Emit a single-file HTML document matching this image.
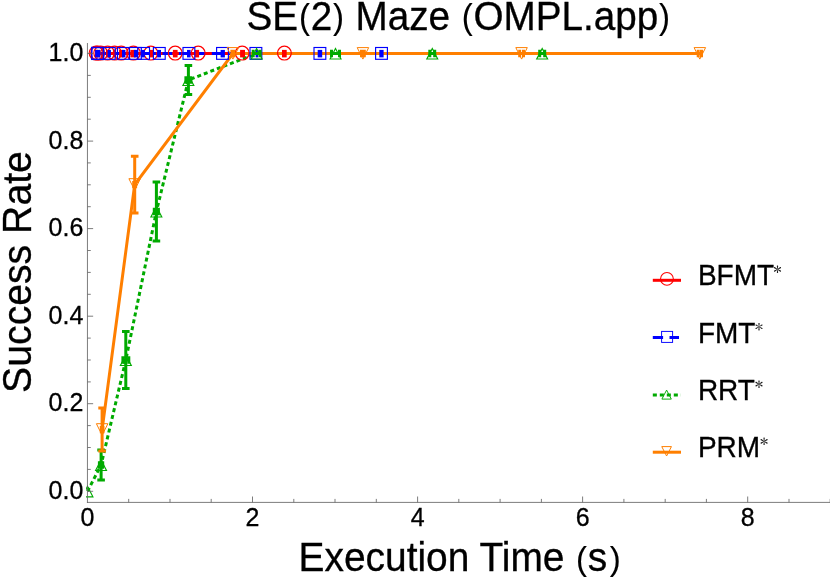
<!DOCTYPE html>
<html><head><meta charset="utf-8"><title>SE(2) Maze</title>
<style>
html,body{margin:0;padding:0;background:#fff;}
body{width:830px;height:580px;overflow:hidden;}
svg{display:block;will-change:transform;}
text{font-family:"Liberation Sans",sans-serif;fill:#000;stroke:#000;stroke-width:0.3px;}
</style></head><body>
<svg width="830" height="580" viewBox="0 0 830 580">
<rect x="0" y="0" width="830" height="580" fill="#ffffff"/>

<defs><clipPath id="pc"><rect x="86" y="40" width="745" height="462"/></clipPath></defs>
<g clip-path="url(#pc)" fill="none" stroke-width="3">
<path d="M96.1 53.5H284.4" stroke="#ff0000"/>
<path d="M97.7 53.5H106.4M113.1 53.5H125.4M132 53.5H138.1M144.8 53.5H155.8" stroke="#0000ff"/>
<path d="M162.45 53.5H381.5" stroke="#0000ff" stroke-dasharray="9.8 6.65"/>
<path d="M87.5 491.3 L101.1 465.0 L125.8 360.0 L156.4 211.5 L188.4 80.0 L256.6 53.5 L335.5 53.5 L432.3 53.5 L542.2 53.5" stroke="#00aa00" stroke-dasharray="4 3"/>
<path d="M102.1 429.6 L134.7 184.6 L232.9 53.5 L362.9 53.5 L521.6 53.5 L699.8 53.5" stroke="#ff7f00" stroke-linejoin="miter"/>
</g>
<g clip-path="url(#pc)">
<circle cx="97.6" cy="53.1" r="6.9" fill="none" stroke="#ff0000" stroke-width="1.2"/>
<rect x="95.3" y="49.9" width="2.7" height="7.5" fill="#ff0000"/>
<circle cx="96.1" cy="53.1" r="6.9" fill="none" stroke="#ff0000" stroke-width="1.2"/>
<rect x="95.3" y="49.9" width="2.7" height="7.5" fill="#ff0000"/>
<circle cx="100.7" cy="53.1" r="6.9" fill="none" stroke="#ff0000" stroke-width="1.2"/>
<rect x="98.4" y="49.9" width="1.8" height="7.5" fill="#ff0000"/>
<circle cx="107.6" cy="53.1" r="6.9" fill="none" stroke="#ff0000" stroke-width="1.2"/>
<rect x="106.0" y="49.9" width="3.2" height="7.5" fill="#ff0000"/>
<circle cx="114.5" cy="53.1" r="6.9" fill="none" stroke="#ff0000" stroke-width="1.2"/>
<rect x="112.9" y="49.9" width="3.2" height="7.5" fill="#ff0000"/>
<circle cx="121.2" cy="53.1" r="6.9" fill="none" stroke="#ff0000" stroke-width="1.2"/>
<rect x="119.1" y="49.9" width="4.4" height="7.5" fill="#ff0000"/>
<circle cx="133.4" cy="53.1" r="6.9" fill="none" stroke="#ff0000" stroke-width="1.2"/>
<rect x="130.4" y="49.9" width="5.2" height="7.5" fill="#ff0000"/>
<circle cx="150.8" cy="53.1" r="6.9" fill="none" stroke="#ff0000" stroke-width="1.2"/>
<rect x="149.6" y="49.9" width="3.4" height="7.5" fill="#ff0000"/>
<circle cx="175.2" cy="53.1" r="6.9" fill="none" stroke="#ff0000" stroke-width="1.2"/>
<rect x="172.9" y="49.9" width="4.7" height="7.5" fill="#ff0000"/>
<circle cx="198.2" cy="53.1" r="6.9" fill="none" stroke="#ff0000" stroke-width="1.2"/>
<rect x="194.6" y="49.9" width="4.5" height="7.5" fill="#ff0000"/>
<circle cx="242.2" cy="53.1" r="6.9" fill="none" stroke="#ff0000" stroke-width="1.2"/>
<rect x="240.1" y="49.9" width="4.9" height="7.5" fill="#ff0000"/>
<circle cx="284.4" cy="53.1" r="6.9" fill="none" stroke="#ff0000" stroke-width="1.2"/>
<rect x="282.0" y="49.9" width="4.7" height="7.5" fill="#ff0000"/>
<rect x="91.8" y="47.5" width="11.8" height="11.8" fill="none" stroke="#0000ff" stroke-width="1.5"/>
<rect x="95.1" y="49.9" width="5.2" height="7.5" fill="#0000ff"/>
<rect x="103.4" y="47.5" width="11.8" height="11.8" fill="none" stroke="#0000ff" stroke-width="1.15"/>
<rect x="107.6" y="49.9" width="3.3" height="7.5" fill="#0000ff"/>
<rect x="117.5" y="47.5" width="11.8" height="11.8" fill="none" stroke="#0000ff" stroke-width="1.15"/>
<rect x="122.0" y="49.9" width="3.4" height="7.5" fill="#0000ff"/>
<rect x="129.5" y="47.5" width="11.8" height="11.8" fill="none" stroke="#0000ff" stroke-width="1.15"/>
<rect x="133.9" y="49.9" width="4.2" height="7.5" fill="#0000ff"/>
<rect x="137.7" y="47.5" width="11.8" height="11.8" fill="none" stroke="#0000ff" stroke-width="1.15"/>
<rect x="140.8" y="49.9" width="4.1" height="7.5" fill="#0000ff"/>
<rect x="153.4" y="47.5" width="11.8" height="11.8" fill="none" stroke="#0000ff" stroke-width="1.15"/>
<rect x="157.1" y="49.9" width="3.9" height="7.5" fill="#0000ff"/>
<rect x="183.0" y="47.5" width="11.8" height="11.8" fill="none" stroke="#0000ff" stroke-width="1.15"/>
<rect x="187.0" y="49.9" width="3.6" height="7.5" fill="#0000ff"/>
<rect x="216.6" y="47.5" width="11.8" height="11.8" fill="none" stroke="#0000ff" stroke-width="1.15"/>
<rect x="220.6" y="49.9" width="4.3" height="7.5" fill="#0000ff"/>
<rect x="250.0" y="47.5" width="11.8" height="11.8" fill="none" stroke="#0000ff" stroke-width="1.15"/>
<rect x="255.6" y="49.9" width="2.8" height="7.5" fill="#0000ff"/>
<rect x="314.0" y="47.5" width="11.8" height="11.8" fill="none" stroke="#0000ff" stroke-width="1.15"/>
<rect x="317.7" y="49.9" width="4.5" height="7.5" fill="#0000ff"/>
<rect x="375.6" y="47.5" width="11.8" height="11.8" fill="none" stroke="#0000ff" stroke-width="1.15"/>
<rect x="379.3" y="49.9" width="4.3" height="7.5" fill="#0000ff"/>
<path d="M87.5 486.3L92.9 496.8L82.0 496.8Z" fill="none" stroke="#00aa00" stroke-width="1.15"/>
<g stroke="#00aa00" stroke-width="3" fill="none"><path d="M99.4 465.0H102.7M99.4 461.3V468.7M102.7 461.3V468.7" /><path d="M101.1 450.1V479.9M97.3 450.1H104.9M97.3 479.9H104.9"/></g>
<path d="M101.1 460.0L106.5 470.5L95.6 470.5Z" fill="none" stroke="#00aa00" stroke-width="1.15"/>
<g stroke="#00aa00" stroke-width="3" fill="none"><path d="M122.9 360.0H128.8M122.9 356.3V363.7M128.8 356.3V363.7" /><path d="M125.8 331.5V388.4M122.0 331.5H129.6M122.0 388.4H129.6"/></g>
<path d="M125.8 355.0L131.3 365.5L120.4 365.5Z" fill="none" stroke="#00aa00" stroke-width="1.15"/>
<g stroke="#00aa00" stroke-width="3" fill="none"><path d="M154.3 211.5H158.4M154.3 207.8V215.2M158.4 207.8V215.2" /><path d="M156.4 182.0V241.1M152.6 182.0H160.2M152.6 241.1H160.2"/></g>
<path d="M156.4 206.5L161.8 217.0L150.9 217.0Z" fill="none" stroke="#00aa00" stroke-width="1.15"/>
<g stroke="#00aa00" stroke-width="3" fill="none"><path d="M185.9 80.0H190.9M185.9 76.3V83.7M190.9 76.3V83.7" /><path d="M188.4 65.5V94.4M184.6 65.5H192.2M184.6 94.4H192.2"/></g>
<path d="M188.4 75.0L193.8 85.5L182.9 85.5Z" fill="none" stroke="#00aa00" stroke-width="1.15"/>
<g stroke="#00aa00" stroke-width="3" fill="none"><path d="M253.2 53.5H260.1M253.2 49.8V57.2M260.1 49.8V57.2" /></g>
<path d="M256.6 48.5L262.1 59.0L251.2 59.0Z" fill="none" stroke="#00aa00" stroke-width="1.15"/>
<g stroke="#00aa00" stroke-width="3" fill="none"><path d="M331.5 53.5H339.5M331.5 49.8V57.2M339.5 49.8V57.2" /></g>
<path d="M335.5 48.5L341.0 59.0L330.1 59.0Z" fill="none" stroke="#00aa00" stroke-width="1.15"/>
<g stroke="#00aa00" stroke-width="3" fill="none"><path d="M429.8 53.5H434.7M429.8 49.8V57.2M434.7 49.8V57.2" /></g>
<path d="M432.3 48.5L437.7 59.0L426.8 59.0Z" fill="none" stroke="#00aa00" stroke-width="1.15"/>
<g stroke="#00aa00" stroke-width="3" fill="none"><path d="M539.7 53.5H544.7M539.7 49.8V57.2M544.7 49.8V57.2" /></g>
<path d="M542.2 48.5L547.6 59.0L536.7 59.0Z" fill="none" stroke="#00aa00" stroke-width="1.15"/>
<g stroke="#ff7f00" stroke-width="3" fill="none"><path d="M101.3 429.6H103.0M101.3 425.9V433.3M103.0 425.9V433.3" /><path d="M102.1 408.1V451.0M98.3 408.1H105.9M98.3 451.0H105.9"/></g>
<path d="M102.1 435.2L107.9 423.7L96.4 423.7Z" fill="none" stroke="#ff7f00" stroke-width="1.0"/>
<g stroke="#ff7f00" stroke-width="3" fill="none"><path d="M133.7 184.6H135.6M133.7 180.9V188.3M135.6 180.9V188.3" /><path d="M134.7 156.2V213.1M130.9 156.2H138.5M130.9 213.1H138.5"/></g>
<path d="M134.7 190.2L140.4 178.7L128.9 178.7Z" fill="none" stroke="#ff7f00" stroke-width="1.0"/>
<g stroke="#ff7f00" stroke-width="3" fill="none"><path d="M231.9 53.5H233.9M231.9 49.8V57.2M233.9 49.8V57.2" /></g>
<path d="M232.9 59.1L238.6 47.6L227.1 47.6Z" fill="none" stroke="#ff7f00" stroke-width="1.0"/>
<g stroke="#ff7f00" stroke-width="3" fill="none"><path d="M361.5 53.5H364.3M361.5 49.8V57.2M364.3 49.8V57.2" /></g>
<path d="M362.9 59.1L368.7 47.6L357.2 47.6Z" fill="none" stroke="#ff7f00" stroke-width="1.0"/>
<g stroke="#ff7f00" stroke-width="3" fill="none"><path d="M519.7 53.5H523.5M519.7 49.8V57.2M523.5 49.8V57.2" /></g>
<path d="M521.6 59.1L527.3 47.6L515.8 47.6Z" fill="none" stroke="#ff7f00" stroke-width="1.0"/>
<g stroke="#ff7f00" stroke-width="3" fill="none"><path d="M698.2 53.5H701.5M698.2 49.8V57.2M701.5 49.8V57.2" /></g>
<path d="M699.8 59.1L705.6 47.6L694.1 47.6Z" fill="none" stroke="#ff7f00" stroke-width="1.0"/>
</g>
<g stroke="#666666" stroke-width="0.85" fill="none">
<path d="M87.45 43.0V502.9M86.95 502.4H830"/>
<path d="M87.45 491.3h5.7M87.45 469.4h3.3M87.45 447.5h3.3M87.45 425.6h3.3M87.45 403.7h5.7M87.45 381.9h3.3M87.45 360.0h3.3M87.45 338.1h3.3M87.45 316.2h5.7M87.45 294.3h3.3M87.45 272.4h3.3M87.45 250.5h3.3M87.45 228.6h5.7M87.45 206.7h3.3M87.45 184.8h3.3M87.45 162.9h3.3M87.45 141.1h5.7M87.45 119.2h3.3M87.45 97.3h3.3M87.45 75.4h3.3M87.45 53.5h5.7"/>
<path d="M128.7 502.4v-3.5M170.0 502.4v-3.5M211.2 502.4v-3.5M252.5 502.4v-5.9M293.8 502.4v-3.5M335.0 502.4v-3.5M376.3 502.4v-3.5M417.6 502.4v-5.9M458.8 502.4v-3.5M500.1 502.4v-3.5M541.4 502.4v-3.5M582.6 502.4v-5.9M623.9 502.4v-3.5M665.2 502.4v-3.5M706.4 502.4v-3.5M747.7 502.4v-5.9M789.0 502.4v-3.5M830.2 502.4v-3.5"/>
</g>
<text transform="translate(83.3 498.7) scale(1 1.045)" font-size="25" text-anchor="end">0.0</text>
<text transform="translate(83.3 411.1) scale(1 1.045)" font-size="25" text-anchor="end">0.2</text>
<text transform="translate(83.3 323.6) scale(1 1.045)" font-size="25" text-anchor="end">0.4</text>
<text transform="translate(83.3 236.0) scale(1 1.045)" font-size="25" text-anchor="end">0.6</text>
<text transform="translate(83.3 148.5) scale(1 1.045)" font-size="25" text-anchor="end">0.8</text>
<text transform="translate(83.3 60.9) scale(1 1.045)" font-size="25" text-anchor="end">1.0</text>
<text transform="translate(87.5 525.7) scale(1 1.045)" font-size="25" text-anchor="middle">0</text>
<text transform="translate(252.5 525.7) scale(1 1.045)" font-size="25" text-anchor="middle">2</text>
<text transform="translate(417.6 525.7) scale(1 1.045)" font-size="25" text-anchor="middle">4</text>
<text transform="translate(582.6 525.7) scale(1 1.045)" font-size="25" text-anchor="middle">6</text>
<text transform="translate(747.7 525.7) scale(1 1.045)" font-size="25" text-anchor="middle">8</text>
<text transform="translate(458.3 29.5) scale(1 1.04)" font-size="38.68" text-anchor="middle">SE<tspan font-size="33" dx="0.8" dy="-0.4" stroke-width="0.1">(</tspan><tspan dx="0.8" dy="0.4">2</tspan><tspan font-size="33" dx="0.8" dy="-0.4" stroke-width="0.1">)</tspan><tspan dx="0.8" dy="0.4"> </tspan>Maze <tspan font-size="33" dx="0.8" dy="-0.4" stroke-width="0.1">(</tspan><tspan dx="0.8" dy="0.4">O</tspan>MPL.app<tspan font-size="33" dx="0.8" dy="-0.4" stroke-width="0.1">)</tspan></text>
<text transform="translate(459.7 570.8) scale(1 1.03)" font-size="38.9" text-anchor="middle">Execution Time <tspan font-size="33" dx="0.8" dy="-0.4" stroke-width="0.1">(</tspan><tspan dx="0.8" dy="0.4">s</tspan><tspan font-size="33" dx="2.6" dy="-0.4" stroke-width="0.1">)</tspan></text>
<text transform="translate(30.5 272.0) rotate(-90) scale(1 1.04)" font-size="39.2" text-anchor="middle">Success Rate</text>
<path d="M652.8 280.3H681" stroke="#ff0000" stroke-width="3"/>
<circle cx="666.95" cy="278.9" r="6.4" fill="none" stroke="#ff0000" stroke-width="1.05"/>
<text transform="translate(697.9 285.1) scale(1 1.035)" font-size="28" text-anchor="start">BFMT</text>
<path d="M777.72 269.05L778.18 266.10L777.85 265.60L777.15 265.60L776.82 266.10L777.28 269.05ZM777.87 269.39L780.83 268.21L781.10 267.68L780.75 267.07L780.15 267.04L777.65 269.01ZM777.35 269.01L774.85 267.04L774.25 267.07L773.90 267.68L774.17 268.21L777.13 269.39ZM777.28 269.65L776.82 272.60L777.15 273.10L777.85 273.10L778.18 272.60L777.72 269.65ZM777.13 269.31L774.17 270.49L773.90 271.02L774.25 271.63L774.85 271.66L777.35 269.69ZM777.65 269.69L780.15 271.66L780.75 271.63L781.10 271.02L780.83 270.49L777.87 269.31Z" fill="#1a1a1a" stroke="none"/>
<path d="M652.8 337.6H663.1M669.5 337.6H679" stroke="#0000ff" stroke-width="3"/>
<rect x="661.6" y="331.4" width="11" height="11" fill="none" stroke="#0000ff" stroke-width="0.95"/>
<text transform="translate(697.9 342.5) scale(1 1.035)" font-size="28" text-anchor="start">FMT</text>
<path d="M759.22 326.45L759.68 323.50L759.35 323.00L758.65 323.00L758.32 323.50L758.78 326.45ZM759.37 326.79L762.33 325.61L762.60 325.08L762.25 324.47L761.65 324.44L759.15 326.41ZM758.85 326.41L756.35 324.44L755.75 324.47L755.40 325.08L755.67 325.61L758.63 326.79ZM758.78 327.05L758.32 330.00L758.65 330.50L759.35 330.50L759.68 330.00L759.22 327.05ZM758.63 326.71L755.67 327.89L755.40 328.42L755.75 329.03L756.35 329.06L758.85 327.09ZM759.15 327.09L761.65 329.06L762.25 329.03L762.60 328.42L762.33 327.89L759.37 326.71Z" fill="#1a1a1a" stroke="none"/>
<path d="M652.8 395H680.9" stroke="#00aa00" stroke-width="3" stroke-dasharray="4.05 2.95"/>
<path d="M666.60 390.10L671.30 399.10L661.90 399.10Z" fill="none" stroke="#00aa00" stroke-width="0.95"/>
<text transform="translate(697.9 399.9) scale(1 1.035)" font-size="28" text-anchor="start">RRT</text>
<path d="M759.22 383.85L759.68 380.90L759.35 380.40L758.65 380.40L758.32 380.90L758.78 383.85ZM759.37 384.19L762.33 383.01L762.60 382.48L762.25 381.87L761.65 381.84L759.15 383.81ZM758.85 383.81L756.35 381.84L755.75 381.87L755.40 382.48L755.67 383.01L758.63 384.19ZM758.78 384.45L758.32 387.40L758.65 387.90L759.35 387.90L759.68 387.40L759.22 384.45ZM758.63 384.11L755.67 385.29L755.40 385.82L755.75 386.43L756.35 386.46L758.85 384.49ZM759.15 384.49L761.65 386.46L762.25 386.43L762.60 385.82L762.33 385.29L759.37 384.11Z" fill="#1a1a1a" stroke="none"/>
<path d="M652.8 452.2H681" stroke="#ff7f00" stroke-width="3"/>
<path d="M666.60 456.00L671.45 446.60L661.75 446.60Z" fill="none" stroke="#ff7f00" stroke-width="1.0"/>
<text transform="translate(697.9 457.1) scale(1 1.035)" font-size="28" text-anchor="start">PRM</text>
<path d="M764.32 441.05L764.78 438.10L764.45 437.60L763.75 437.60L763.42 438.10L763.88 441.05ZM764.47 441.39L767.43 440.21L767.70 439.68L767.35 439.07L766.75 439.04L764.25 441.01ZM763.95 441.01L761.45 439.04L760.85 439.07L760.50 439.68L760.77 440.21L763.73 441.39ZM763.88 441.65L763.42 444.60L763.75 445.10L764.45 445.10L764.78 444.60L764.32 441.65ZM763.73 441.31L760.77 442.49L760.50 443.02L760.85 443.63L761.45 443.66L763.95 441.69ZM764.25 441.69L766.75 443.66L767.35 443.63L767.70 443.02L767.43 442.49L764.47 441.31Z" fill="#1a1a1a" stroke="none"/>
</svg></body></html>
